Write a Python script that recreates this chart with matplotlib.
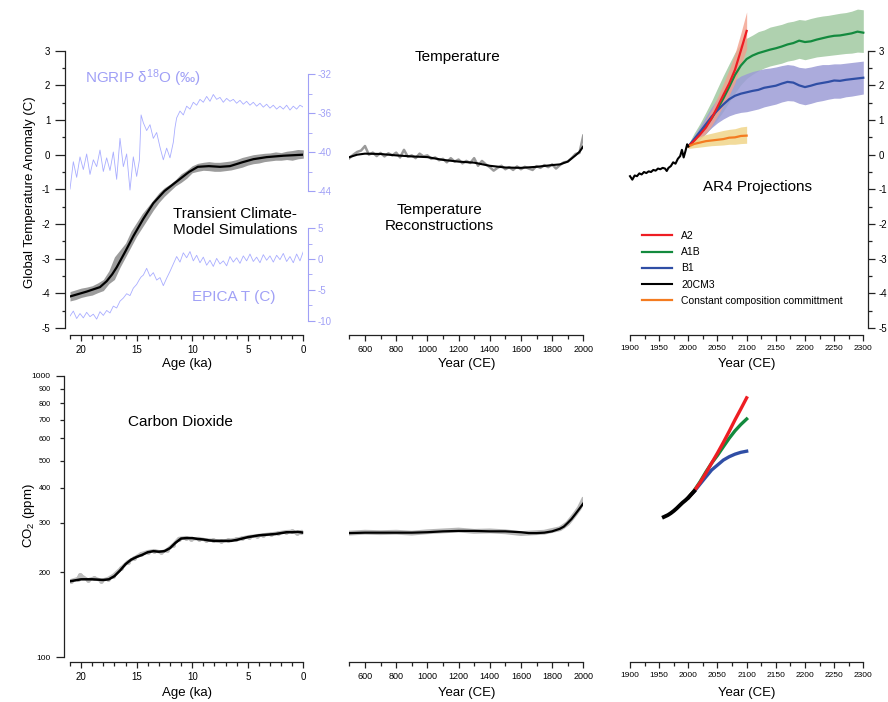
import numpy as np
import matplotlib.pyplot as plt
from matplotlib.ticker import MultipleLocator, FixedLocator, NullLocator, FixedFormatter

plt.rcParams['font.family'] = ['Liberation Sans', 'DejaVu Sans']
plt.rcParams['mathtext.fontset'] = 'custom'
plt.rcParams['mathtext.rm'] = 'Liberation Sans'
plt.rcParams['axes.unicode_minus'] = False

# ---------------- data ----------------
# transient climate-model simulations (global T anomaly, C) vs age (ka)
sim_age = [21.0, 19.5, 18.3, 17.7, 17.2, 16.8, 16.0, 15.3, 14.4, 13.5, 12.5, 11.1,
           10.3, 9.5, 8.5, 7.5, 6.6, 5.5, 4.5, 3.3, 1.8, 0.0]
sim_mean = [-4.09, -3.95, -3.82, -3.65, -3.45, -3.25, -2.78, -2.35, -1.85, -1.4, -1.05, -0.7,
            -0.5, -0.35, -0.33, -0.35, -0.33, -0.22, -0.13, -0.07, -0.03, 0.0]
band_age = [21.0, 20.5, 20.0, 19.5, 19.0, 18.5, 18.0, 17.5, 17.0, 16.5, 16.0, 15.5, 15.0, 14.5,
            14.0, 13.5, 13.0, 12.5, 12.0, 11.5, 11.0, 10.5, 10.0, 9.5, 9.0, 8.5, 8.0, 7.5,
            7.0, 6.5, 6.0, 5.5, 5.0, 4.5, 4.0, 3.5, 3.0, 2.5, 2.0, 1.5, 1.0, 0.5, 0.0]
band_hi = [-3.95, -3.9, -3.85, -3.82, -3.78, -3.7, -3.6, -3.35, -2.95, -2.75, -2.55, -2.2, -1.95,
           -1.7, -1.5, -1.3, -1.1, -0.95, -0.85, -0.72, -0.55, -0.45, -0.32, -0.25, -0.22, -0.2,
           -0.22, -0.22, -0.2, -0.18, -0.14, -0.08, -0.04, 0.0, 0.02, 0.04, 0.05, 0.08, 0.06,
           0.1, 0.12, 0.15, 0.14]
band_lo = [-4.22, -4.18, -4.12, -4.08, -4.05, -3.98, -3.92, -3.72, -3.6, -3.25, -2.95, -2.65,
           -2.35, -2.1, -1.85, -1.6, -1.38, -1.2, -1.05, -0.9, -0.8, -0.68, -0.52, -0.48, -0.45,
           -0.46, -0.48, -0.48, -0.46, -0.44, -0.4, -0.36, -0.3, -0.26, -0.24, -0.2, -0.18,
           -0.16, -0.16, -0.14, -0.16, -0.12, -0.1]

# NGRIP d18O (permil) and EPICA T (C), same age grid
core_age = [21.0, 20.7, 20.4, 20.1, 19.8, 19.5, 19.2, 18.9, 18.6, 18.3, 18.0, 17.7, 17.4, 17.1,
            16.8, 16.5, 16.2, 15.9, 15.6, 15.3, 15.0, 14.75, 14.6, 14.4, 14.1, 13.8, 13.5, 13.2,
            12.9, 12.6, 12.3, 12.0, 11.7, 11.55, 11.4, 11.1, 10.8, 10.5, 10.2, 9.9, 9.6, 9.3,
            9.0, 8.7, 8.4, 8.1, 7.8, 7.5, 7.2, 6.9, 6.6, 6.3, 6.0, 5.7, 5.4, 5.1, 4.8, 4.5,
            4.2, 3.9, 3.6, 3.3, 3.0, 2.7, 2.4, 2.1, 1.8, 1.5, 1.2, 0.9, 0.6, 0.3, 0.0]
ngrip_d18o = [-43.8, -41.0, -42.6, -40.5, -41.8, -40.2, -42.3, -40.8, -41.5, -39.8, -42.0, -40.6,
              -41.9, -40.0, -42.8, -38.6, -41.5, -40.2, -43.9, -40.5, -42.5, -40.8, -36.2, -37.0,
              -37.8, -37.2, -38.6, -38.0, -39.5, -40.8, -39.6, -40.6, -39.0, -37.5, -36.5, -35.8,
              -36.2, -35.3, -35.6, -34.9, -35.2, -34.6, -34.9, -34.3, -34.8, -34.1, -34.6, -34.4,
              -34.9, -34.5, -34.8, -34.6, -35.0, -34.7, -35.1, -34.8, -35.2, -34.9, -35.3, -35.0,
              -35.4, -35.1, -35.5, -35.2, -35.6, -35.3, -35.6, -35.2, -35.7, -35.3, -35.6, -35.2,
              -35.4]
epica_t = [-9.2, -8.4, -9.6, -8.8, -9.5, -8.6, -9.3, -8.9, -9.7, -8.5, -9.1, -8.3, -8.7, -7.6,
           -7.9, -6.8, -6.3, -5.6, -5.9, -4.7, -4.1, -3.3, -2.9, -2.6, -1.5, -2.8, -2.2, -3.4,
           -3.0, -4.3, -3.1, -2.0, -0.8, -0.2, 0.4, -0.5, 1.0, 0.2, 1.2, -0.3, 0.6, -0.6, 0.3,
           -1.0, -0.2, -1.2, 0.1, -0.8, -0.3, -1.1, 0.4, -0.5, 0.2, -0.7, 0.5, -0.3, 0.8, -0.4,
           0.3, -0.6, 0.7, -0.2, 0.5, -0.5, 0.6, -0.1, 0.9, -0.4, 0.4, -0.6, 0.8, -0.3, 1.2]

# temperature reconstructions (C) vs year CE
rec_year = [500, 525, 550, 575, 600, 625, 650, 675, 700, 725, 750, 775, 800, 825, 850, 875,
            900, 925, 950, 975, 1000, 1025, 1050, 1075, 1100, 1125, 1150, 1175, 1200, 1225,
            1250, 1275, 1300, 1325, 1350, 1375, 1400, 1425, 1450, 1475, 1500, 1525, 1550,
            1575, 1600, 1625, 1650, 1675, 1700, 1725, 1750, 1775, 1800, 1825, 1850, 1875,
            1900, 1925, 1950, 1975, 2000]
rec_temp = [-0.1, 0.0, 0.08, 0.12, 0.25, 0.0, 0.06, -0.04, 0.05, -0.05, 0.04, -0.02, 0.06,
            -0.08, 0.14, -0.06, -0.02, -0.1, 0.03, -0.05, -0.02, -0.12, -0.08, -0.16, -0.12,
            -0.22, -0.1, -0.2, -0.14, -0.25, -0.18, -0.24, -0.1, -0.32, -0.18, -0.28, -0.36,
            -0.46, -0.38, -0.32, -0.42, -0.36, -0.44, -0.34, -0.42, -0.35, -0.4, -0.44, -0.33,
            -0.38, -0.3, -0.36, -0.28, -0.4, -0.3, -0.22, -0.2, -0.1, 0.02, 0.05, 0.55]
rec_smooth_year = [500, 550, 600, 700, 800, 900, 1000, 1100, 1200, 1300, 1400, 1500, 1600,
                   1700, 1800, 1850, 1900, 1950, 1975, 2000]
rec_smooth = [-0.07, 0.0, 0.03, 0.02, -0.02, -0.05, -0.07, -0.15, -0.2, -0.23, -0.32, -0.37,
              -0.38, -0.35, -0.3, -0.28, -0.2, -0.02, 0.08, 0.24]

# AR4 projections
hist_year = [1900, 1904, 1908, 1912, 1916, 1920, 1924, 1928, 1932, 1936, 1940, 1944, 1948,
             1952, 1956, 1960, 1963, 1966, 1970, 1974, 1978, 1982, 1986, 1989, 1992, 1995,
             1998, 2000]
hist_temp = [-0.62, -0.72, -0.6, -0.62, -0.54, -0.57, -0.5, -0.53, -0.48, -0.5, -0.44, -0.46,
             -0.4, -0.42, -0.38, -0.4, -0.47, -0.38, -0.33, -0.22, -0.26, -0.12, -0.04, 0.14,
             -0.08, 0.1, 0.3, 0.24]
proj_year = [2000, 2010, 2020, 2030, 2040, 2050, 2060, 2070, 2080, 2090, 2100, 2110, 2120,
             2130, 2140, 2150, 2160, 2170, 2180, 2190, 2200, 2210, 2220, 2230, 2240, 2250,
             2260, 2270, 2280, 2290, 2300]
a1b_temp = [0.24, 0.42, 0.62, 0.82, 1.05, 1.32, 1.62, 1.95, 2.3, 2.57, 2.76, 2.86, 2.93, 2.98,
            3.03, 3.07, 3.12, 3.18, 3.22, 3.29, 3.25, 3.27, 3.32, 3.36, 3.4, 3.43, 3.44, 3.47,
            3.5, 3.55, 3.52]
a1b_hi = [0.3, 0.62, 0.9, 1.22, 1.55, 1.92, 2.28, 2.62, 2.95, 3.2, 3.36, 3.45, 3.55, 3.6, 3.68,
          3.72, 3.76, 3.82, 3.85, 3.9, 3.88, 3.93, 3.97, 4.0, 4.02, 4.05, 4.08, 4.1, 4.14, 4.2,
          4.18]
a1b_lo = [0.2, 0.3, 0.44, 0.6, 0.8, 1.02, 1.26, 1.52, 1.78, 2.02, 2.2, 2.32, 2.42, 2.5, 2.56,
          2.6, 2.64, 2.7, 2.73, 2.78, 2.74, 2.78, 2.82, 2.84, 2.86, 2.88, 2.9, 2.92, 2.93, 2.96,
          2.95]
b1_temp = [0.24, 0.45, 0.66, 0.88, 1.1, 1.28, 1.45, 1.6, 1.7, 1.76, 1.8, 1.84, 1.87, 1.93, 1.96,
           1.99, 2.05, 2.1, 2.08, 2.0, 1.95, 1.99, 2.04, 2.07, 2.1, 2.14, 2.13, 2.16, 2.18, 2.2,
           2.22]
b1_hi = [0.28, 0.55, 0.82, 1.1, 1.38, 1.62, 1.84, 2.02, 2.16, 2.27, 2.34, 2.4, 2.44, 2.48, 2.5,
         2.53, 2.57, 2.6, 2.58, 2.52, 2.5, 2.53, 2.57, 2.6, 2.6, 2.62, 2.62, 2.64, 2.66, 2.68,
         2.7]
b1_lo = [0.2, 0.34, 0.48, 0.62, 0.78, 0.92, 1.03, 1.12, 1.18, 1.22, 1.24, 1.28, 1.32, 1.38, 1.42,
         1.46, 1.52, 1.56, 1.55, 1.48, 1.44, 1.48, 1.53, 1.56, 1.6, 1.63, 1.63, 1.67, 1.69, 1.72,
         1.75]
short_year = [2000, 2010, 2020, 2030, 2040, 2050, 2060, 2070, 2080, 2090, 2100]
a2_temp = [0.24, 0.4, 0.58, 0.78, 1.05, 1.38, 1.72, 2.05, 2.45, 3.0, 3.57]
a2_hi = [0.28, 0.5, 0.74, 1.0, 1.3, 1.66, 2.05, 2.46, 2.92, 3.5, 4.12]
a2_lo = [0.2, 0.32, 0.46, 0.62, 0.84, 1.12, 1.42, 1.72, 2.08, 2.58, 3.05]
commit_temp = [0.24, 0.31, 0.35, 0.39, 0.41, 0.43, 0.45, 0.49, 0.5, 0.54, 0.55]
commit_hi = [0.3, 0.45, 0.52, 0.58, 0.62, 0.66, 0.7, 0.73, 0.75, 0.8, 0.82]
commit_lo = [0.18, 0.2, 0.22, 0.24, 0.26, 0.27, 0.28, 0.3, 0.3, 0.32, 0.33]

# carbon dioxide (ppm)
co2_age = [21.0, 20.0, 19.0, 18.0, 17.5, 17.0, 16.5, 16.0, 15.5, 15.0, 14.5, 14.0, 13.5, 13.0,
           12.5, 12.0, 11.5, 11.0, 10.5, 10.0, 9.5, 9.0, 8.5, 8.0, 7.5, 7.0, 6.5, 6.0, 5.5,
           5.0, 4.5, 4.0, 3.5, 3.0, 2.5, 2.0, 1.5, 1.0, 0.5, 0.0]
co2_ppm = [186, 189, 189, 188, 189, 194, 203, 214, 222, 227, 231, 236, 238, 237, 238, 244, 255,
           264, 265, 265, 263, 262, 260, 259, 259, 259, 259, 261, 264, 267, 269, 271, 272, 273,
           274, 276, 278, 278, 279, 277]
co2_dot_age = [20.9, 20.3, 20.1, 19.4, 18.8, 18.2, 17.6, 17.1, 16.4, 15.8, 15.2, 14.6, 14.0,
               13.4, 12.8, 12.3, 11.7, 11.2, 10.6, 10.1, 9.4, 8.8, 8.1, 7.4, 6.8, 6.1, 5.5, 4.9,
               4.2, 3.6, 2.9, 2.3, 1.6, 1.0, 0.6, 0.2]
co2_dot_ppm = [187, 190, 196, 188, 191, 187, 190, 195, 207, 218, 225, 233, 237, 239, 236, 240,
               251, 264, 266, 263, 264, 261, 260, 258, 260, 262, 265, 268, 270, 272, 274, 276,
               279, 280, 276, 279]
co2_lm_year = [500, 600, 700, 800, 900, 1000, 1100, 1200, 1300, 1400, 1500, 1600, 1650, 1700,
               1750, 1800, 1850, 1875, 1900, 1925, 1950, 1975, 2000]
co2_lm_ppm = [276, 277, 277, 277, 277, 278, 280, 281, 281, 280, 280, 278, 276, 276, 277, 280,
              286, 291, 300, 310, 323, 337, 352]
co2_lm_gray = [276, 278, 277, 278, 276, 279, 281, 283, 280, 281, 279, 275, 276, 277, 278, 282,
               286, 292, 299, 311, 324, 339, 362]
co2_obs_year = [1958, 1965, 1970, 1975, 1980, 1985, 1990, 1995, 2000, 2005, 2010]
co2_obs_ppm = [315, 320, 325, 331, 338, 346, 354, 361, 369, 379, 389]
co2_a2 = [369, 390, 417, 451, 490, 532, 580, 635, 698, 763, 836]
co2_a1b = [369, 391, 420, 455, 490, 522, 560, 600, 638, 672, 703]
co2_b1 = [369, 388, 412, 437, 463, 482, 502, 516, 527, 535, 540]

# ---------------- styling ----------------
W, H = 888, 702
BLUE = '#a0a0f6'
BLUE_LINE = '#a9adff'
RED, GREEN, NAVY, ORANGE = '#ee1d23', '#138a3e', '#2f4ea5', '#f47b20'
SPINE = '#222222'

fig = plt.figure(figsize=(W / 100, H / 100), dpi=100)


def px_axes(x0, x1, y0, y1):
    return fig.add_axes([x0 / W, 1 - y1 / H, (x1 - x0) / W, (y1 - y0) / H])


def ftext(x, y, s, **kw):
    kw.setdefault('ha', 'center')
    kw.setdefault('va', 'center')
    fig.text(x / W, 1 - y / H, s, **kw)


def clean(ax):
    for s in ax.spines.values():
        s.set_visible(False)
    ax.yaxis.set_major_locator(NullLocator())
    ax.yaxis.set_minor_locator(NullLocator())
    ax.patch.set_visible(False)


def bottom_axis(ax, lo, hi, major, minor, out, size):
    sp = ax.spines['bottom']
    sp.set_visible(True)
    sp.set_position(('outward', out))
    sp.set_bounds(lo, hi)
    sp.set_color(SPINE)
    sp.set_linewidth(0.9)
    ax.xaxis.set_major_locator(MultipleLocator(major))
    ax.xaxis.set_minor_locator(MultipleLocator(minor))
    ax.tick_params(axis='x', which='major', length=4.5, width=0.9, color=SPINE,
                   labelsize=size, pad=3)
    ax.tick_params(axis='x', which='minor', length=2.8, width=0.9, color=SPINE)


TOP_Y = (50.7, 328)
BOT_Y = (376, 657)
AGE_X = (70, 303.3)
CE_X = (349.4, 583.3)
PR_X = (630, 863.3)

# ---- top left: transient simulations + ice cores ----
axTL = px_axes(AGE_X[0], AGE_X[1], *TOP_Y)
clean(axTL)
axTL.set_xlim(21, 0)
axTL.set_ylim(-5, 3)
axTL.fill_between(band_age, band_lo, band_hi, color='#9c9c9c', lw=0)
axTL.plot(sim_age, sim_mean, color='black', lw=1.6)
bottom_axis(axTL, 21, 0, 5, 1, 5, 7)
sp = axTL.spines['left']
sp.set_visible(True)
sp.set_position(('outward', 3.6))
sp.set_color(SPINE)
sp.set_linewidth(0.9)
axTL.yaxis.set_major_locator(MultipleLocator(1))
axTL.yaxis.set_minor_locator(MultipleLocator(0.5))
axTL.tick_params(axis='y', which='major', length=7, width=0.9, color=SPINE, labelsize=7, pad=3.5)
axTL.tick_params(axis='y', which='minor', length=2.5, width=0.9, color=SPINE)


def blue_axis(ylim, lo, hi, major, minor, x, y):
    ax = px_axes(AGE_X[0], AGE_X[1], *TOP_Y)
    clean(ax)
    ax.set_xlim(21, 0)
    ax.set_ylim(*ylim)
    ax.set_xticks([])
    ax.plot(x, y, color=BLUE_LINE, lw=0.6)
    sp = ax.spines['right']
    sp.set_visible(True)
    sp.set_position(('outward', 3.6))
    sp.set_bounds(lo, hi)
    sp.set_color(BLUE)
    ax.yaxis.tick_right()
    ax.yaxis.set_major_locator(FixedLocator(major))
    ax.yaxis.set_minor_locator(FixedLocator(minor))
    ax.tick_params(axis='y', which='major', colors=BLUE, length=5, labelsize=7, pad=2)
    ax.tick_params(axis='y', which='minor', colors=BLUE, length=2.8)
    return ax


blue_axis((-58.05, -29.61), -44, -32, [-32, -36, -40, -44], [-34, -38, -42],
          core_age, ngrip_d18o)
blue_axis((-11.13, 33.6), -10, 5, [5, 0, -5, -10], [2.5, -2.5, -7.5], core_age, epica_t)

# ---- top middle: reconstructions ----
axTM = px_axes(CE_X[0], CE_X[1], *TOP_Y)
clean(axTM)
axTM.set_xlim(500, 2000)
axTM.set_ylim(-5, 3)
axTM.plot(rec_year, rec_temp, color='#9a9a9a', lw=1.8)
axTM.plot(rec_smooth_year, rec_smooth, color='black', lw=1.5)
bottom_axis(axTM, 500, 2000, 200, 100, 5, 6.5)

# ---- top right: AR4 projections ----
axTR = px_axes(PR_X[0], PR_X[1], *TOP_Y)
clean(axTR)
axTR.set_xlim(1900, 2300)
axTR.set_ylim(-5, 3)
axTR.fill_between(proj_year, a1b_lo, a1b_hi, color='#a6cca6', lw=0, alpha=0.9, clip_on=False)
axTR.fill_between(proj_year, b1_lo, b1_hi, color='#9c9cd6', lw=0, alpha=0.85, clip_on=False)
axTR.fill_between(short_year, a2_lo, a2_hi, color='#f3a08c', lw=0, alpha=0.8, clip_on=False)
axTR.fill_between(short_year, commit_lo, commit_hi, color='#f0d58a', lw=0, alpha=0.85,
                  clip_on=False)
lA1B, = axTR.plot(proj_year, a1b_temp, color=GREEN, lw=1.6, clip_on=False)
lB1, = axTR.plot(proj_year, b1_temp, color=NAVY, lw=1.6, clip_on=False)
lA2, = axTR.plot(short_year, a2_temp, color=RED, lw=1.6, clip_on=False)
lCom, = axTR.plot(short_year, commit_temp, color=ORANGE, lw=1.6, clip_on=False)
l20, = axTR.plot(hist_year, hist_temp, color='black', lw=1.5, clip_on=False)
bottom_axis(axTR, 1900, 2300, 50, 25, 5, 6)
sp = axTR.spines['right']
sp.set_visible(True)
sp.set_position(('outward', 3.6))
sp.set_color(SPINE)
sp.set_linewidth(0.9)
axTR.yaxis.tick_right()
axTR.yaxis.set_major_locator(MultipleLocator(1))
axTR.yaxis.set_minor_locator(MultipleLocator(0.5))
axTR.tick_params(axis='y', which='major', length=5, width=0.9, color=SPINE, labelsize=7, pad=2.5)
axTR.tick_params(axis='y', which='minor', length=2.8, width=0.9, color=SPINE)
axTR.legend([lA2, lA1B, lB1, l20, lCom],
            ['A2', 'A1B', 'B1', '20CM3', 'Constant composition committment'],
            loc='upper left', bbox_to_anchor=(642 / W, 1 - 231 / H),
            bbox_transform=fig.transFigure, frameon=False, fontsize=7.5, borderpad=0,
            borderaxespad=0, handlelength=2.9, handletextpad=0.85, labelspacing=0.6)

# ---- bottom left: CO2 glacial ----
axBL = px_axes(AGE_X[0], AGE_X[1], *BOT_Y)
axBL.set_yscale('log')
clean(axBL)
axBL.set_xlim(21, 0)
axBL.set_ylim(100, 1000)
axBL.plot(co2_dot_age, co2_dot_ppm, color='#bdbdbd', lw=2.5, marker='o', ms=2.5)
axBL.plot(co2_age, co2_ppm, color='black', lw=1.8)
bottom_axis(axBL, 21, 0, 5, 1, 3.4, 7)
sp = axBL.spines['left']
sp.set_visible(True)
sp.set_position(('outward', 4.3))
sp.set_color(SPINE)
sp.set_linewidth(0.9)
axBL.yaxis.set_major_locator(FixedLocator([100, 1000]))
axBL.yaxis.set_major_formatter(FixedFormatter(['100', '1000']))
minor_ppm = [200, 300, 400, 500, 600, 700, 800, 900]
axBL.yaxis.set_minor_locator(FixedLocator(minor_ppm))
axBL.yaxis.set_minor_formatter(FixedFormatter([str(v) for v in minor_ppm]))
axBL.tick_params(axis='y', which='major', length=6, width=0.9, color=SPINE, labelsize=6, pad=3.5)
axBL.tick_params(axis='y', which='minor', length=3, width=0.9, color=SPINE, labelsize=5.2,
                 pad=6.3)

# ---- bottom middle: CO2 last 1500 yr ----
axBM = px_axes(CE_X[0], CE_X[1], *BOT_Y)
axBM.set_yscale('log')
clean(axBM)
axBM.set_xlim(500, 2000)
axBM.set_ylim(100, 1000)
axBM.plot(co2_lm_year, co2_lm_gray, color='#b8b8b8', lw=3.5)
axBM.plot(co2_lm_year, co2_lm_ppm, color='black', lw=1.6)
bottom_axis(axBM, 500, 2000, 200, 100, 3.4, 6.5)

# ---- bottom right: CO2 scenarios ----
axBR = px_axes(PR_X[0], PR_X[1], *BOT_Y)
axBR.set_yscale('log')
clean(axBR)
axBR.set_xlim(1900, 2300)
axBR.set_ylim(100, 1000)
axBR.plot(short_year, co2_b1, color=NAVY, lw=2.4)
axBR.plot(short_year, co2_a1b, color=GREEN, lw=2.4)
axBR.plot(short_year, co2_a2, color=RED, lw=2.4)
axBR.plot(co2_obs_year, co2_obs_ppm, color='black', lw=2.8)
bottom_axis(axBR, 1900, 2300, 50, 25, 3.4, 6)

# ---------------- texts ----------------
ftext(30, 192, 'Global Temperature Anomaly (C)', rotation=90, fontsize=9.5)
ftext(29, 516, r'CO$_\mathregular{2}$ (ppm)', rotation=90, fontsize=9.5)
for y in (364, 693):
    ftext(186.7, y, 'Age (ka)', fontsize=9.5)
    ftext(466.3, y, 'Year (CE)', fontsize=9.5)
    ftext(746.7, y, 'Year (CE)', fontsize=9.5)

ftext(85, 78, r'NGRIP δ$\mathregular{^{18}}$O (‰)', ha='left', fontsize=11, color=BLUE)
ftext(192, 297, 'EPICA T (C)', ha='left', fontsize=11, color=BLUE)
ftext(235, 222, 'Transient Climate-\nModel Simulations', fontsize=11, linespacing=1.25)
ftext(457, 57, 'Temperature', fontsize=11)
ftext(439, 218, 'Temperature\nReconstructions', fontsize=11, linespacing=1.25)
ftext(757, 187, 'AR4 Projections', fontsize=11)
ftext(180, 422, 'Carbon Dioxide', fontsize=11)

fig.savefig('out.png', dpi=100)
